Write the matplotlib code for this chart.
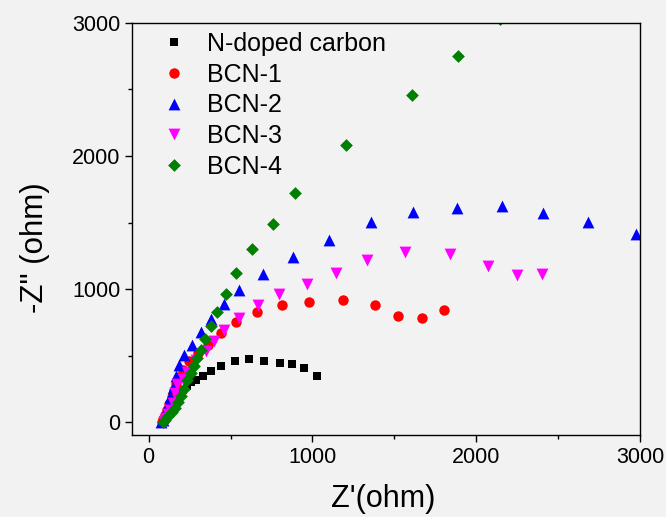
import matplotlib
matplotlib.use('Agg')
import matplotlib.pyplot as plt
from matplotlib.ticker import MultipleLocator

plt.rcParams['font.family'] = ['Liberation Sans', 'DejaVu Sans']

# %% Data
labels = ['N-doped carbon', 'BCN-1', 'BCN-2', 'BCN-3', 'BCN-4']

ndc_x = [90, 98, 108, 120, 135, 150, 168, 188, 210, 235, 260, 288, 333, 379,
         442, 528, 615, 702, 800, 877, 948, 1025]
ndc_y = [0, 20, 45, 75, 105, 140, 175, 210, 245, 275, 300, 320, 350, 388,
         420, 457, 477, 460, 445, 440, 405, 350]

bcn1_x = [84, 90, 100, 112, 125, 140, 155, 170, 185, 207, 247, 302, 365, 444,
          534, 660, 812, 977, 1186, 1379, 1524, 1670, 1804]
bcn1_y = [5, 25, 55, 95, 140, 190, 240, 290, 340, 395, 458, 524, 584, 671,
          753, 825, 882, 907, 922, 880, 802, 787, 845]

bcn2_x = [78, 85, 95, 106, 118, 132, 148, 166, 188, 213, 262, 318, 383, 460,
          552, 696, 881, 1103, 1357, 1611, 1885, 2158, 2408, 2684, 2977]
bcn2_y = [0, 20, 50, 90, 135, 190, 255, 345, 430, 505, 580, 676, 775, 887,
          996, 1111, 1242, 1372, 1506, 1581, 1611, 1626, 1568, 1501, 1417]

bcn3_x = [95, 100, 108, 118, 130, 146, 160, 176, 207, 237, 288, 349, 396, 460,
          550, 670, 798, 965, 1141, 1335, 1568, 1841, 2072, 2249, 2403]
bcn3_y = [5, 15, 35, 60, 95, 145, 220, 291, 328, 377, 465, 539, 608, 693,
          783, 880, 966, 1037, 1121, 1216, 1275, 1265, 1173, 1106, 1111]

bcn4_x = [85, 100, 120, 140, 160, 180, 196, 215, 237, 257, 277, 298, 318, 344,
          383, 420, 471, 536, 634, 759, 891, 1207, 1605, 1887, 2146]
bcn4_y = [5, 20, 45, 75, 110, 150, 195, 250, 320, 370, 420, 480, 540, 626,
          723, 830, 966, 1121, 1298, 1491, 1721, 2081, 2458, 2750, 3025]

series_x = [ndc_x, bcn1_x, bcn2_x, bcn3_x, bcn4_x]
series_y = [ndc_y, bcn1_y, bcn2_y, bcn3_y, bcn4_y]
markers = ['s', 'o', '^', 'v', 'D']
colors = ['black', 'red', 'blue', 'magenta', 'green']
sizes = [6, 7.5, 8.5, 8.5, 6.5]

# %% Plot
bg = '#f2f2f2'
fig = plt.figure(figsize=(6.66, 5.17), dpi=100, facecolor=bg)
ax = fig.add_axes([0.1986, 0.1586, 0.7624, 0.7975], facecolor=bg)

for xs, ys, m, c, s, lab in zip(series_x, series_y, markers, colors, sizes, labels):
    ax.scatter(xs, ys, marker=m, color=c, s=s ** 2, linewidths=0,
               label=lab, clip_on=True)

ax.set_xlim(-100, 3000)
ax.set_ylim(-95, 3000)
ax.xaxis.set_major_locator(MultipleLocator(1000))
ax.xaxis.set_minor_locator(MultipleLocator(500))
ax.yaxis.set_major_locator(MultipleLocator(1000))
ax.yaxis.set_minor_locator(MultipleLocator(500))
ax.tick_params(which='both', direction='out', top=False, right=False,
               labelsize=15.5, width=1)
ax.tick_params(which='major', length=5)
ax.tick_params(which='minor', length=3)
for sp in ax.spines.values():
    sp.set_linewidth(1.0)

ax.set_xlabel("Z'(ohm)", fontsize=22)
ax.xaxis.set_label_coords(0.495, -0.12)
ax.set_ylabel('-Z" (ohm)', fontsize=22.5)
ax.yaxis.set_label_coords(-0.162, 0.454)

ax.legend(loc='upper left', bbox_to_anchor=(0.032, 0.978), frameon=False,
          fontsize=18, borderaxespad=0, borderpad=0, labelspacing=0.27,
          handlelength=2.0, handletextpad=0.32, scatteryoffsets=[0.5])

fig.savefig('out.png', dpi=100, facecolor=bg)
